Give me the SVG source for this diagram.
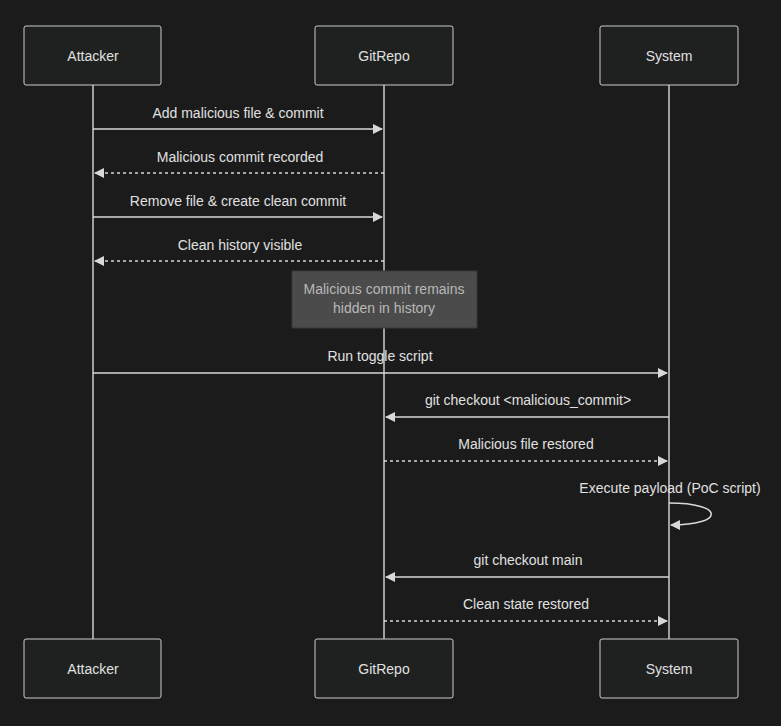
<svg xmlns="http://www.w3.org/2000/svg" width="781" height="726" viewBox="0 0 781 726">
<style>
.box{fill:#1f2020;stroke:#cccccc;stroke-width:1}
.lt{font-family:"Liberation Sans",Arial,sans-serif;font-size:14px;fill:#e0e0e0;text-anchor:middle}
.ml{fill:none;stroke:#d8d8d8;stroke-width:1.5}
.d{stroke-dasharray:3,3}
.life{stroke:#cccccc;stroke-width:1.5}
</style>
<defs><marker id="a" markerWidth="10" markerHeight="10" refX="9" refY="5" orient="auto" markerUnits="userSpaceOnUse"><path d="M0,0L10,5L0,10z" fill="#d8d8d8"/></marker></defs>
<rect width="781" height="726" fill="#1b1b1b"/>
<g id="lifelines">
<line class="life" x1="93" y1="85" x2="93" y2="639"/>
<line class="life" x1="384" y1="85" x2="384" y2="639"/>
<line class="life" x1="669" y1="85" x2="669" y2="639"/>
</g>
<g id="Attacker"><rect class="box" x="24" y="26" width="137" height="59" rx="2"/><text class="lt" x="93" y="61">Attacker</text>
<rect class="box" x="24" y="639" width="137" height="59" rx="2"/><text class="lt" x="93" y="674">Attacker</text></g>
<g id="GitRepo"><rect class="box" x="315" y="26" width="138" height="59" rx="2"/><text class="lt" x="384" y="61">GitRepo</text>
<rect class="box" x="315" y="639" width="138" height="59" rx="2"/><text class="lt" x="384" y="674">GitRepo</text></g>
<g id="System"><rect class="box" x="600" y="26" width="138" height="59" rx="2"/><text class="lt" x="669" y="61">System</text>
<rect class="box" x="600" y="639" width="138" height="59" rx="2"/><text class="lt" x="669" y="674">System</text></g>
<g id="note"><rect x="292" y="271" width="185" height="57" fill="#4a4b4a" stroke="#3a3b3a"/>
<text class="lt" x="384" y="294" fill="#b8b8b8" style="fill:#b8b8b8">Malicious commit remains</text>
<text class="lt" x="384" y="313" style="fill:#b8b8b8">hidden in history</text></g>
<g id="connectors">
<line class="ml" x1="93" y1="129" x2="382" y2="129" marker-end="url(#a)"/>
<text class="lt" x="238" y="118">Add malicious file &amp; commit</text>
<line class="ml d" x1="384" y1="173" x2="95" y2="173" marker-end="url(#a)"/>
<text class="lt" x="240" y="162">Malicious commit recorded</text>
<line class="ml" x1="93" y1="217" x2="382" y2="217" marker-end="url(#a)"/>
<text class="lt" x="238" y="206">Remove file &amp; create clean commit</text>
<line class="ml d" x1="384" y1="261" x2="95" y2="261" marker-end="url(#a)"/>
<text class="lt" x="240" y="250">Clean history visible</text>
<line class="ml" x1="93" y1="373" x2="667" y2="373" marker-end="url(#a)"/>
<text class="lt" x="380" y="361">Run toggle script</text>
<line class="ml" x1="669" y1="417" x2="386" y2="417" marker-end="url(#a)"/>
<text class="lt" x="528" y="405">git checkout &lt;malicious_commit&gt;</text>
<line class="ml d" x1="384" y1="461" x2="667" y2="461" marker-end="url(#a)"/>
<text class="lt" x="526" y="449">Malicious file restored</text>
<path class="ml" d="M669,503C725,503 725,525 671,525" marker-end="url(#a)"/>
<text class="lt" x="670" y="493">Execute payload (PoC script)</text>
<line class="ml" x1="669" y1="577" x2="386" y2="577" marker-end="url(#a)"/>
<text class="lt" x="528" y="565">git checkout main</text>
<line class="ml d" x1="384" y1="621" x2="667" y2="621" marker-end="url(#a)"/>
<text class="lt" x="526" y="609">Clean state restored</text>
</g>
</svg>
